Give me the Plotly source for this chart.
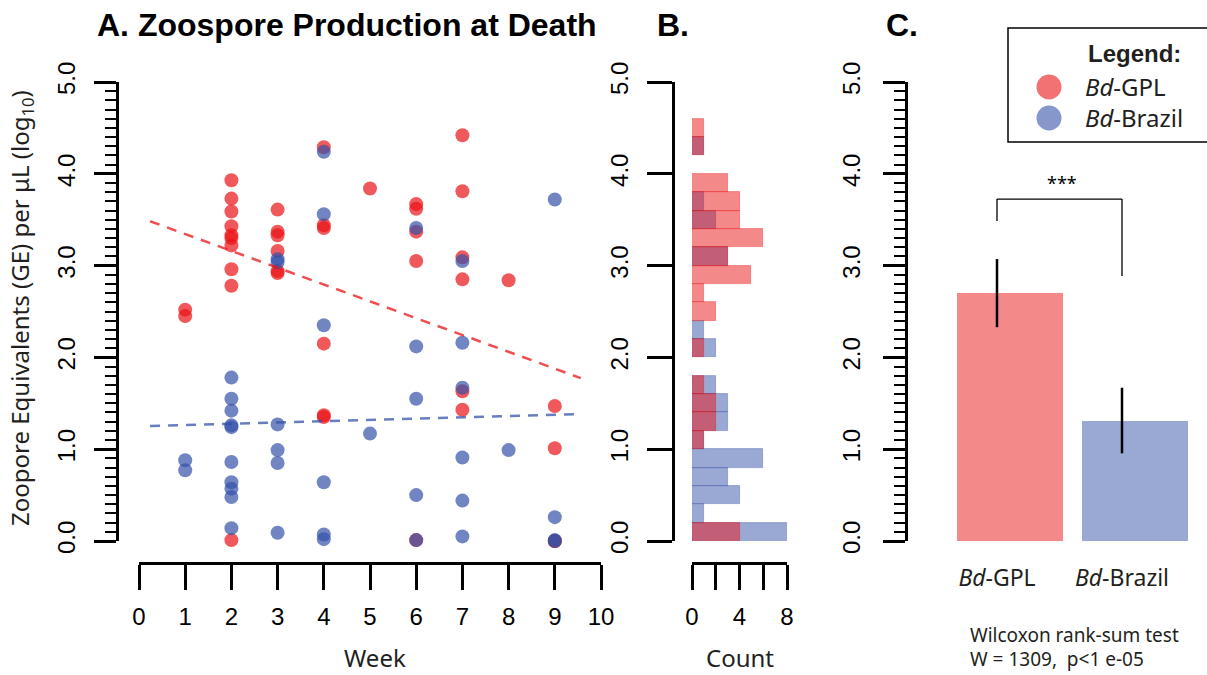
import numpy as np
import plotly.graph_objects as go

W, H = 1207, 675
def px(x): return x / W
def py(y): return 1 - y / H

# ---------------- data ----------------
weeks = [1, 1, 2, 2, 2, 2, 2, 2, 2, 2, 2, 2, 3, 3, 3, 3, 3, 3, 4, 4, 4, 4, 4, 4, 5,
         6, 6, 6, 6, 6, 7, 7, 7, 7, 7, 7, 8, 9, 9, 9, 9]
gpl_ge = [2.52, 2.45,
          3.93, 3.73, 3.59, 3.43, 3.33, 3.30, 3.22, 2.96, 2.78, 0.01,
          3.61, 3.37, 3.33, 3.16, 2.94, 2.92,
          4.29, 3.44, 3.41, 2.15, 1.37, 1.35,
          3.84,
          3.67, 3.62, 3.37, 3.05, 0.01,
          4.42, 3.81, 3.09, 2.85, 1.63, 1.43,
          2.84,
          1.47, 1.01, 0.00, 0.00]
brazil_ge = [0.88, 0.77,
             1.78, 1.55, 1.42, 1.26, 1.24, 0.86, 0.64, 0.57, 0.48, 0.14,
             3.07, 3.04, 1.27, 0.99, 0.85, 0.09,
             4.24, 3.56, 2.35, 0.64, 0.07, 0.02,
             1.17,
             3.41, 2.12, 1.55, 0.50, 0.01,
             3.05, 2.16, 1.67, 0.91, 0.44, 0.05,
             0.99,
             3.72, 0.26, 0.01, 0.00]
strains = ["<i>Bd</i>-GPL", "<i>Bd</i>-Brazil"]
week_ticks = list(range(0, 11))
ge_ticks = [0, 1, 2, 3, 4, 5]
count_labels = [0, 4, 8]
fit_span = [0.24, 9.56]
stat_lines = ["Wilcoxon rank-sum test", "W = 1309,  p<1 e-05"]

# ---------------- style ----------------
RED = "rgba(233,19,21,{a})"
BLUE = "rgba(53,81,169,{a})"
TICKFONT = dict(family="Liberation Sans", size=24, color="black")
SANS = "Noto Sans"
TXT = "#231f20"

fig = go.Figure()

# ---- Panel A: scatter ----
for ge, col in [(gpl_ge, RED), (brazil_ge, BLUE)]:
    fig.add_trace(go.Scatter(x=weeks, y=ge, mode="markers", xaxis="x", yaxis="y",
                             marker=dict(size=14, color=col.format(a=0.7), line=dict(width=0)),
                             cliponaxis=False, showlegend=False, hoverinfo="skip"))
for ge, col in [(gpl_ge, RED), (brazil_ge, BLUE)]:
    slope, icpt = np.polyfit(weeks, ge, 1)
    xs = np.array(fit_span)
    fig.add_trace(go.Scatter(x=xs, y=icpt + slope * xs, mode="lines", xaxis="x", yaxis="y",
                             line=dict(color=col.format(a=0.75), width=2.5, dash="10px,8px"),
                             showlegend=False, hoverinfo="skip"))

# ---- Panel B: histograms ----
for ge, col in [(brazil_ge, BLUE), (gpl_ge, RED)]:
    fig.add_trace(go.Histogram(y=ge, xaxis="x2", yaxis="y2",
                               ybins=dict(start=0, end=5, size=0.2),
                               marker=dict(color=col.format(a=0.5),
                                           line=dict(color=col.format(a=0.45), width=0.8)),
                               showlegend=False, hoverinfo="skip"))

# ---- Panel C: means + CI ----
means = [float(np.mean(gpl_ge)), float(np.mean(brazil_ge))]
ci = [1.96 * float(np.std(g, ddof=1)) / np.sqrt(len(g)) for g in (gpl_ge, brazil_ge)]
fig.add_trace(go.Bar(x=[0, 1], y=means, xaxis="x3", yaxis="y3", width=0.848, offset=-0.32,
                     marker=dict(color=[RED.format(a=0.5), BLUE.format(a=0.5)], line=dict(width=0)),
                     showlegend=False, hoverinfo="skip"))
fig.add_trace(go.Scatter(x=[0, 1], y=means, mode="markers", xaxis="x3", yaxis="y3",
                         marker=dict(size=1, opacity=0),
                         error_y=dict(type="data", array=ci, color="black", thickness=2.5, width=0),
                         cliponaxis=False, showlegend=False, hoverinfo="skip"))

axis_common = dict(showgrid=False, zeroline=False, showline=True, linecolor="black",
                   linewidth=2.5, ticks="outside", tickcolor="black", tickwidth=2.5,
                   tickfont=TICKFONT, automargin=False)
minor = dict(ticks="outside", dtick=0.1, ticklen=11, tickwidth=2, tickcolor="black", showgrid=False)

fig.update_layout(
    template="none",
    width=W, height=H, margin=dict(l=0, r=0, t=0, b=0, pad=0), autosize=False,
    paper_bgcolor="white", plot_bgcolor="rgba(0,0,0,0)",
    barmode="overlay", bargap=0, showlegend=False,
    xaxis=dict(domain=[px(139), px(601)], range=[0, 10], anchor="free", position=py(563),
               tickvals=week_ticks, ticklen=25, ticklabelstandoff=6, **axis_common),
    yaxis=dict(domain=[py(541), py(82)], range=[0, 5], anchor="free", position=px(117),
               tickvals=ge_ticks, tickformat=".1f", tickangle=-90, ticklen=22,
               ticklabelstandoff=10, minor=minor, **axis_common),
    xaxis2=dict(domain=[px(692), px(787)], range=[0, 8], anchor="free", position=py(563),
                tickvals=count_labels, ticklen=25, ticklabelstandoff=6,
                minor=dict(ticks="outside", dtick=2, ticklen=25, tickwidth=2.5,
                           tickcolor="black", showgrid=False),
                **axis_common),
    yaxis2=dict(domain=[py(541), py(82)], range=[0, 5], anchor="free", position=px(673),
                tickvals=ge_ticks, tickformat=".1f", tickangle=-90, ticklen=25,
                ticklabelstandoff=10, **axis_common),
    xaxis3=dict(domain=[px(920), 1.0], range=[-0.616, 1.68], anchor="y3",
                showline=False, showgrid=False, zeroline=False, ticks="", automargin=False,
                tickvals=[0, 1], ticktext=strains, ticklabelstandoff=21,
                tickfont=dict(family=SANS, size=23, color=TXT)),
    yaxis3=dict(domain=[py(541), py(82)], range=[0, 5], anchor="free", position=px(906),
                tickvals=ge_ticks, tickformat=".1f", tickangle=-90, ticklen=22,
                ticklabelstandoff=14, minor=minor, **axis_common),
)

# ---- significance bracket ----
br = dict(type="line", xref="x3", yref="y3", line=dict(color="black", width=1.3))
fig.add_shape(x0=0, x1=1, y0=3.725, y1=3.725, **br)
fig.add_shape(x0=0, x1=0, y0=3.725, y1=3.486, **br)
fig.add_shape(x0=1, x1=1, y0=3.725, y1=2.887, **br)
fig.add_annotation(x=0.52, y=3.9, xref="x3", yref="y3", text="***", showarrow=False,
                   xanchor="center", yanchor="middle",
                   font=dict(family=SANS, size=18, color="black"))

# ---- titles / labels ----
ann = dict(showarrow=False, xref="paper", yref="paper", yanchor="middle")
fig.add_annotation(x=px(95), y=py(25), xanchor="left",
                   text="<b>A. Zoospore Production at Death</b>",
                   font=dict(family="Liberation Sans", size=32, color="black"), **ann)
fig.add_annotation(x=px(655), y=py(25), xanchor="left", text="<b>B.</b>",
                   font=dict(family="Liberation Sans", size=32, color="black"), **ann)
fig.add_annotation(x=px(884), y=py(25), xanchor="left", text="<b>C.</b>",
                   font=dict(family="Liberation Sans", size=32, color="black"), **ann)
fig.add_annotation(x=px(21), y=py(308), xanchor="center", textangle=-90,
                   text="Zoopore Equivalents (GE) per μL (log<sub>10</sub>)",
                   font=dict(family=SANS, size=24, color=TXT), **ann)
fig.add_annotation(x=px(375), y=py(657), xanchor="center", text="Week",
                   font=dict(family=SANS, size=24, color=TXT), **ann)
fig.add_annotation(x=px(740), y=py(657), xanchor="center", text="Count",
                   font=dict(family=SANS, size=24, color=TXT), **ann)
for i, line in enumerate(stat_lines):
    fig.add_annotation(x=px(968), y=py(635 + 24 * i), xanchor="left", text=line,
                       font=dict(family=SANS, size=19, color=TXT), **ann)

# ---- legend box ----
fig.add_shape(type="rect", xref="paper", yref="paper", x0=px(1008), x1=px(1215),
              y0=py(142), y1=py(28), line=dict(color="black", width=1.5), fillcolor="white",
              layer="below")
fig.add_annotation(x=px(1134), y=py(53), xanchor="center", text="<b>Legend:</b>",
                   font=dict(family="Liberation Sans", size=24, color=TXT), **ann)
for i, (lab, col) in enumerate(zip(strains, [RED, BLUE])):
    cy = 87 + 31 * i
    fig.add_shape(type="circle", xref="paper", yref="paper",
                  x0=px(1049 - 12.5), x1=px(1049 + 12.5), y0=py(cy + 12.5), y1=py(cy - 12.5),
                  fillcolor=col.format(a=0.6), line=dict(width=0))
    fig.add_annotation(x=px(1083), y=py(cy), xanchor="left", text=lab,
                       font=dict(family=SANS, size=24, color=TXT), **ann)

fig.write_html("out.html")
